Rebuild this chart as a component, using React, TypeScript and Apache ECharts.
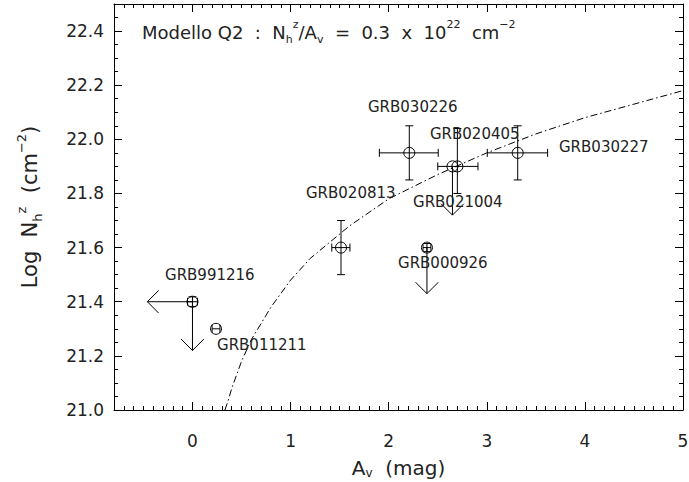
import React, { useEffect, useRef } from "react";
import * as echarts from "echarts";

const X_MIN = -0.8;
const X_MAX = 5;
const Y_MIN = 21.0;
const Y_MAX = 22.5;

const xTickValues = [0, 1, 2, 3, 4, 5];
const xTickLabels = ["0", "1", "2", "3", "4", "5"];
const yTickValues = [21.0, 21.2, 21.4, 21.6, 21.8, 22.0, 22.2, 22.4];
const yTickLabels = ["21.0", "21.2", "21.4", "21.6", "21.8", "22.0", "22.2", "22.4"];

// Measured points with error bars
const pointNames = ["GRB020813", "GRB030226", "GRB020405", "GRB030227", "GRB021004", "GRB000926", "GRB991216", "GRB011211"];
const pointAv = [1.514, 2.21, 2.70, 3.315, 2.65, 2.39, 0.0, 0.24];
const pointLogN = [21.60, 21.95, 21.90, 21.95, 21.90, 21.60, 21.40, 21.30];
const avLo = [1.42, 1.905, 2.50, 3.005, 2.65, 2.35, -0.05, 0.20];
const avHi = [1.605, 2.505, 2.91, 3.62, 2.65, 2.43, 0.05, 0.28];
const logNLo = [21.50, 21.85, 21.80, 21.85, 21.90, 21.585, 21.382, 21.30];
const logNHi = [21.70, 22.05, 22.04, 22.05, 21.90, 21.615, 21.418, 21.30];

// Upper limits (arrows)
const arrowFromAv = [0.0, 0.0, 2.39, 2.65];
const arrowFromLogN = [21.40, 21.40, 21.60, 21.90];
const arrowToAv = [-0.46, 0.0, 2.39, 2.65];
const arrowToLogN = [21.40, 21.22, 21.43, 21.72];

// Labels (anchored at left-middle, data coordinates)
const labelNames = ["GRB991216", "GRB011211", "GRB020813", "GRB030226", "GRB020405", "GRB021004", "GRB000926", "GRB030227"];
const labelAv = [-0.28, 0.25, 1.157, 1.789, 2.421, 2.248, 2.095, 3.736];
const labelLogN = [21.499, 21.240, 21.802, 22.119, 22.020, 21.768, 21.543, 21.972];

// Model curve Nh/Av = 0.3e22
const curveAv = [0.33, 0.36, 0.4, 0.45, 0.5, 0.6, 0.7, 0.8, 0.9, 1.0, 1.2, 1.4, 1.6, 1.8, 2.0, 2.5, 3.0, 3.5, 4.0, 4.5, 5.0];
const curveLogN = [21.00, 21.03, 21.08, 21.13, 21.18, 21.26, 21.32, 21.38, 21.43, 21.48, 21.56, 21.62, 21.68, 21.73, 21.78, 21.87, 21.95, 22.02, 22.08, 22.13, 22.18];

const FONT = "DejaVu Sans";
const TXT = "#222";

const richStyles = (base: number, extra: number) => ({
  n: { fontSize: base, fontFamily: FONT, color: TXT, lineHeight: base + extra },
  sub: { fontSize: Math.round(base * 0.62), fontFamily: FONT, color: TXT, verticalAlign: "bottom", lineHeight: Math.round(base * 0.62) },
  sup: { fontSize: Math.round(base * 0.62), fontFamily: FONT, color: TXT, verticalAlign: "top", lineHeight: Math.round(base * 0.62) },
});

const tickLine = { color: "#000", width: 1 };

export default function App() {
  const ref = useRef<HTMLDivElement>(null);
  useEffect(() => {
    document.body.style.margin = "0";
    if (!ref.current) return;
    const chart = echarts.init(ref.current, null, { renderer: "svg" });

    const errData = pointAv.map((x, i) => [x, pointLogN[i], avLo[i], avHi[i], logNLo[i], logNHi[i]]);
    const arrowData = arrowFromAv.map((x, i) => [x, arrowFromLogN[i], arrowToAv[i], arrowToLogN[i]]);
    const labelData = labelAv.map((x, i) => [x, labelLogN[i], i]);
    const curveData = curveAv.map((x, i) => [x, curveLogN[i]]);

    const stroke = { stroke: "#000", lineWidth: 1 };
    const CAP = 4;

    const xMinorAxis = (position: string) => ({
      type: "value",
      position,
      min: X_MIN,
      max: X_MAX,
      interval: 0.1,
      axisLine: { show: true, onZero: false, lineStyle: tickLine },
      axisTick: { show: true, inside: true, length: 4, lineStyle: tickLine },
      splitLine: { show: false },
      axisLabel: { show: false },
    });
    const xMajorAxis = (position: string, withLabels: boolean) => ({
      type: "value",
      position,
      min: X_MIN,
      max: X_MAX,
      interval: 0.1,
      axisLine: { show: false, onZero: false },
      axisTick: { show: true, inside: true, length: 8, lineStyle: tickLine, customValues: xTickValues },
      splitLine: { show: false },
      axisLabel: withLabels
        ? {
            show: true,
            customValues: xTickValues,
            margin: 22,
            fontSize: 17,
            fontFamily: FONT,
            color: TXT,
            formatter: (v: number) => {
              const i = xTickValues.findIndex((t) => Math.abs(t - v) < 1e-6);
              return i >= 0 ? xTickLabels[i] : "";
            },
          }
        : { show: false },
    });
    const yAxisDef = (position: string, withLabels: boolean) => ({
      type: "value",
      position,
      min: Y_MIN,
      max: Y_MAX,
      interval: 0.2,
      axisLine: { show: true, onZero: false, lineStyle: tickLine },
      axisTick: { show: true, inside: true, length: 8, lineStyle: tickLine },
      minorTick: { show: true, splitNumber: 4, length: 4, lineStyle: tickLine },
      splitLine: { show: false },
      axisLabel: withLabels
        ? {
            margin: 10,
            fontSize: 17,
            fontFamily: FONT,
            color: TXT,
            showMaxLabel: false,
            formatter: (v: number) => {
              const i = yTickValues.findIndex((t) => Math.abs(t - v) < 1e-6);
              return i >= 0 ? yTickLabels[i] : "";
            },
          }
        : { show: false },
    });

    const option: any = {
      animation: false,
      backgroundColor: "#fff",
      grid: { left: 114, right: 6, top: 4, bottom: 72, containLabel: false, outerBoundsMode: "none" },
      graphic: [
        {
          type: "text",
          left: 142,
          top: 19,
          style: {
            text: "{n|Modello Q2  :  N}{sub|h}{sup|z}{n|/A}{sub|v}{n|  =  0.3  x  10}{sup|22}{n|  cm}{sup|−2}",
            rich: richStyles(18, 8),
            fill: TXT,
          },
        },
      ],
      xAxis: [
        {
          ...xMajorAxis("bottom", true),
          name: "{n|A}{sub|v}{n|  (mag)}",
          nameLocation: "middle",
          nameGap: 47,
          nameTextStyle: { rich: richStyles(20, 2) },
        },
        xMajorAxis("top", false),
        xMinorAxis("bottom"),
        xMinorAxis("top"),
      ],
      yAxis: [
        {
          ...yAxisDef("left", true),
          name: "{n|Log  N}{sub|h}{sup|z}{n|  (cm}{sup|−2}{n|)}",
          nameLocation: "middle",
          nameGap: 70,
          nameTextStyle: { rich: richStyles(21, 8) },
        },
        yAxisDef("right", false),
      ],
      series: [
        {
          type: "line",
          data: curveData,
          smooth: false,
          showSymbol: false,
          symbol: "none",
          clip: true,
          lineStyle: { color: "#000", width: 1, type: [7, 3, 1.5, 3] },
          z: 2,
        },
        {
          type: "custom",
          data: errData,
          encode: { x: 0, y: 1 },
          z: 3,
          renderItem: (_p: any, api: any) => {
            const x = api.value(0), y = api.value(1);
            const c = api.coord([x, y]);
            const xl = api.coord([api.value(2), y]);
            const xh = api.coord([api.value(3), y]);
            const yl = api.coord([x, api.value(4)]);
            const yh = api.coord([x, api.value(5)]);
            const ch: any[] = [];
            if (xh[0] - xl[0] > 0.5) {
              ch.push({ type: "line", shape: { x1: xl[0], y1: c[1], x2: xh[0], y2: c[1] }, style: stroke });
              ch.push({ type: "line", shape: { x1: xl[0], y1: c[1] - CAP, x2: xl[0], y2: c[1] + CAP }, style: stroke });
              ch.push({ type: "line", shape: { x1: xh[0], y1: c[1] - CAP, x2: xh[0], y2: c[1] + CAP }, style: stroke });
            }
            if (yl[1] - yh[1] > 0.5) {
              ch.push({ type: "line", shape: { x1: c[0], y1: yl[1], x2: c[0], y2: yh[1] }, style: stroke });
              ch.push({ type: "line", shape: { x1: c[0] - CAP, y1: yl[1], x2: c[0] + CAP, y2: yl[1] }, style: stroke });
              ch.push({ type: "line", shape: { x1: c[0] - CAP, y1: yh[1], x2: c[0] + CAP, y2: yh[1] }, style: stroke });
            }
            ch.push({ type: "circle", shape: { cx: c[0], cy: c[1], r: 5.5 }, style: { fill: "none", stroke: "#000", lineWidth: 1 } });
            return { type: "group", children: ch };
          },
        },
        {
          type: "custom",
          data: arrowData,
          encode: { x: 0, y: 1 },
          z: 3,
          renderItem: (_p: any, api: any) => {
            const a = api.coord([api.value(0), api.value(1)]);
            const b = api.coord([api.value(2), api.value(3)]);
            const dx = b[0] - a[0], dy = b[1] - a[1];
            const len = Math.sqrt(dx * dx + dy * dy) || 1;
            const ux = dx / len, uy = dy / len;
            const L = 16;
            const cs = Math.SQRT1_2;
            const w1 = [b[0] - L * (ux * cs - uy * cs), b[1] - L * (uy * cs + ux * cs)];
            const w2 = [b[0] - L * (ux * cs + uy * cs), b[1] - L * (uy * cs - ux * cs)];
            return {
              type: "group",
              children: [
                { type: "line", shape: { x1: a[0], y1: a[1], x2: b[0], y2: b[1] }, style: stroke },
                { type: "polyline", shape: { points: [w1, b, w2] }, style: { ...stroke, fill: "none" } },
              ],
            };
          },
        },
        {
          type: "custom",
          data: labelData,
          encode: { x: 0, y: 1 },
          z: 4,
          renderItem: (_p: any, api: any) => {
            const p = api.coord([api.value(0), api.value(1)]);
            return {
              type: "text",
              x: p[0],
              y: p[1],
              style: {
                text: labelNames[api.value(2)],
                fill: TXT,
                fontSize: 15,
                fontFamily: FONT,
                align: "left",
                verticalAlign: "middle",
              },
            };
          },
        },
      ],
    };
    chart.setOption(option);
    return () => chart.dispose();
  }, []);
  return <div ref={ref} style={{ width: 689, height: 482 }} />;
}
